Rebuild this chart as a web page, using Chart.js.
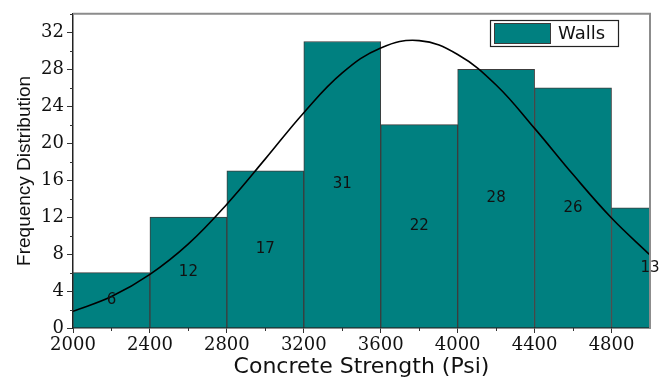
<!DOCTYPE html>
<html>
<head>
<meta charset="utf-8">
<script src="https://cdn.jsdelivr.net/npm/chart.js@4/dist/chart.umd.min.js"></script>
<style>
  html, body { margin: 0; padding: 0; background: #ffffff; }
  #wrap { width: 663px; height: 388px; }
</style>
</head>
<body>
<div id="wrap"><canvas id="c" width="663" height="388"></canvas></div>
<script>
// Histogram bins (centre of each 400 psi class) and their counts
const binCenters = [2200, 2600, 3000, 3400, 3800, 4200, 4600, 5000];
const frequencies = [6, 12, 17, 31, 22, 28, 26, 13];

// Fitted normal curve, sampled every 200 psi
const curveX = [2000, 2200, 2400, 2600, 2800, 3000, 3200, 3400, 3600, 3800, 4000, 4200, 4400, 4600, 4800, 5000];
const curveY = [1.8, 3.4, 5.8, 9.1, 13.4, 18.3, 23.3, 27.6, 30.3, 31.1, 29.6, 26.3, 21.6, 16.6, 11.9, 7.9];

// Axis ticks
const xMajorTicks = [2000, 2400, 2800, 3200, 3600, 4000, 4400, 4800];
const xMinorTicks = [2200, 2600, 3000, 3400, 3800, 4200, 4600];
const yMajorTicks = [0, 4, 8, 12, 16, 20, 24, 28, 32];
const yMinorTicks = [2, 6, 10, 14, 18, 22, 26, 30, 34];

const seriesName = 'Walls';
const xTitle = 'Concrete Strength (Psi)';
const yTitle = 'Frequency Distribution';

const TEAL = '#008080';
const BAR_DATASET = 1;

// Bar value labels, centred vertically in each bar
const barLabels = {
  id: 'barLabels',
  afterDatasetsDraw(chart) {
    const ctx = chart.ctx;
    const meta = chart.getDatasetMeta(BAR_DATASET);
    ctx.save();
    ctx.font = '15px "DejaVu Sans"';
    ctx.fillStyle = '#111';
    ctx.textAlign = 'center';
    ctx.textBaseline = 'middle';
    meta.data.forEach((el, i) => {
      ctx.fillText(String(frequencies[i]), el.x, (el.y + el.base) / 2);
    });
    ctx.restore();
  }
};

// Frame, minor ticks and legend box
const decorations = {
  id: 'decorations',
  afterDraw(chart) {
    const ctx = chart.ctx;
    const a = chart.chartArea;
    const xs = chart.scales.x, ys = chart.scales.y;
    ctx.save();
    // top and right frame
    ctx.strokeStyle = '#8c8c8c';
    ctx.lineWidth = 2;
    ctx.beginPath();
    ctx.moveTo(a.left, a.top);
    ctx.lineTo(a.right, a.top);
    ctx.lineTo(a.right, a.bottom);
    ctx.stroke();
    // minor ticks
    ctx.strokeStyle = '#333';
    ctx.lineWidth = 1;
    ctx.beginPath();
    xMinorTicks.forEach(v => {
      const px = Math.round(xs.getPixelForValue(v)) + 0.5;
      ctx.moveTo(px, a.bottom);
      ctx.lineTo(px, a.bottom + 3);
    });
    yMinorTicks.forEach(v => {
      const py = Math.round(ys.getPixelForValue(v)) + 0.5;
      ctx.moveTo(a.left, py);
      ctx.lineTo(a.left - 3, py);
    });
    ctx.stroke();
    // legend
    const lx = 490, ly = 20, lw = 128, lh = 26;
    ctx.fillStyle = '#fff';
    ctx.fillRect(lx, ly, lw, lh);
    ctx.strokeStyle = '#222';
    ctx.lineWidth = 1.2;
    ctx.strokeRect(lx + 0.5, ly + 0.5, lw, lh);
    ctx.fillStyle = TEAL;
    ctx.fillRect(494, 23, 56, 20);
    ctx.strokeStyle = '#3a3a3a';
    ctx.lineWidth = 1;
    ctx.strokeRect(494.5, 23.5, 56, 20);
    ctx.fillStyle = '#111';
    ctx.font = '18px "DejaVu Sans"';
    ctx.textBaseline = 'middle';
    ctx.textAlign = 'left';
    ctx.fillText(seriesName, 558, 34);
    ctx.restore();
  }
};

new Chart(document.getElementById('c'), {
  type: 'bar',
  data: {
    datasets: [
      {
        type: 'line',
        label: 'Normal',
        data: curveX.map((x, i) => ({ x, y: curveY[i] })),
        borderColor: '#000',
        borderWidth: 1.6,
        pointRadius: 0,
        tension: 0.4,
        fill: false,
        order: 0,
        clip: 0
      },
      {
        type: 'bar',
        label: seriesName,
        data: binCenters.map((x, i) => ({ x, y: frequencies[i] })),
        backgroundColor: TEAL,
        borderColor: '#3c3c3c',
        borderWidth: 1,
        barPercentage: 1,
        categoryPercentage: 1,
        order: 1,
        clip: 0
      }
    ]
  },
  options: {
    responsive: false,
    animation: false,
    layout: { padding: { top: 9, right: 13, left: 0, bottom: 0 } },
    plugins: {
      legend: { display: false },
      tooltip: { enabled: false }
    },
    scales: {
      x: {
        type: 'linear',
        min: 2000,
        max: 5000,
        offset: false,
        afterBuildTicks: s => { s.ticks = xMajorTicks.map(v => ({ value: v })); },
        afterFit: s => { s.height = 60; },
        grid: { offset: false, drawOnChartArea: false, drawTicks: true, tickLength: 5, color: '#333' },
        border: { color: '#222', width: 1.5 },
        ticks: {
          padding: 2,
          color: '#111',
          font: { family: '"DejaVu Serif"', size: 18 },
          maxRotation: 0,
          autoSkip: false,
          callback: v => String(v)
        },
        title: {
          display: true,
          text: xTitle,
          color: '#111',
          font: { family: '"DejaVu Sans"', size: 22 },
          padding: { top: 0, bottom: 8 }
        }
      },
      y: {
        min: 0,
        max: 34,
        afterBuildTicks: s => { s.ticks = yMajorTicks.map(v => ({ value: v })); },
        afterFit: s => { s.width = 73; },
        grid: { drawOnChartArea: false, drawTicks: true, tickLength: 6, color: '#333' },
        border: { color: '#222', width: 1.5 },
        ticks: {
          padding: 3,
          color: '#111',
          font: { family: '"DejaVu Serif"', size: 18 },
          callback: v => String(v)
        },
        title: {
          display: true,
          text: yTitle,
          color: '#111',
          font: { family: '"Liberation Sans"', size: 19 },
          padding: { top: 13, bottom: 0 }
        }
      }
    }
  },
  plugins: [barLabels, decorations]
});
</script>
</body>
</html>
